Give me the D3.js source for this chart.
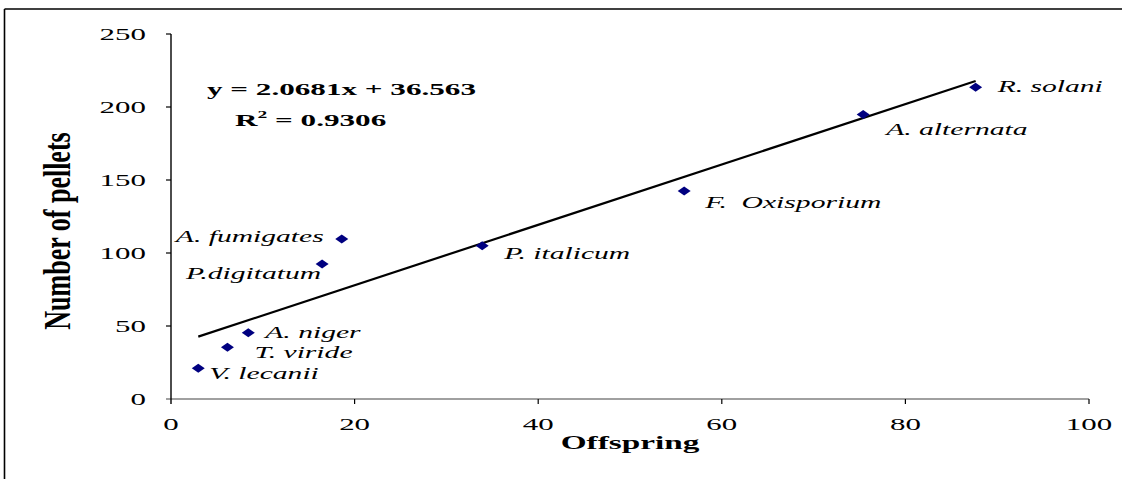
<!DOCTYPE html>
<html>
<head>
<meta charset="utf-8">
<script src="https://cdn.jsdelivr.net/npm/d3@7"></script>
<style>
  html, body { margin: 0; padding: 0; background: #fff; }
  svg { display: block; }
</style>
</head>
<body>
<svg id="chart" width="1122" height="479"></svg>
<script>
// ---- data ----
const species   = ["V. lecanii", "T. viride", "A. niger", "P.digitatum", "A. fumigates", "P. italicum", "F.  Oxisporium", "A. alternata", "R. solani"];
const offspring = [2.97, 6.15, 8.42, 16.46, 18.6, 33.9, 55.9, 75.4, 87.65];
const pellets   = [21.0, 35.4, 45.4, 92.5, 109.6, 104.9, 142.5, 194.9, 213.5];
const xTicks = [0, 20, 40, 60, 80, 100];
const yTicks = [0, 50, 100, 150, 200, 250];
const slope = 2.0681, intercept = 36.563, r2 = "0.9306";
const xTitle = "Offspring", yTitle = "Number of pellets";

// ---- layout (label placement relative to each point) ----
const labelLayout = [
  {dx: 11, dy: 11, anchor: "start"},
  {dx: 27, dy: 11, anchor: "start"},
  {dx: 17, dy: 5,  anchor: "start"},
  {dx: -1, dy: 15, anchor: "end"},
  {dx: -18, dy: 3, anchor: "end"},
  {dx: 22, dy: 13, anchor: "start"},
  {dx: 21, dy: 17, anchor: "start"},
  {dx: 23, dy: 21, anchor: "start"},
  {dx: 22, dy: 5,  anchor: "start"}
];

const SX = 1.82; // horizontal stretch of the original picture
const serif = "'Liberation Serif', 'Times New Roman', serif";

const svg = d3.select("#chart");
const x = d3.scaleLinear().domain([0, 100]).range([171, 1089]);
const y = d3.scaleLinear().domain([0, 250]).range([399, 34]);

// frame
svg.append("line").attr("x1", 4.5).attr("x2", 1122).attr("y1", 9).attr("y2", 9)
  .attr("stroke", "#000").attr("stroke-width", 1.6);
svg.append("line").attr("x1", 4.5).attr("x2", 4.5).attr("y1", 9).attr("y2", 479)
  .attr("stroke", "#000").attr("stroke-width", 1.6);

function stretchedText(g, px, py, txt, opts) {
  const t = g.append("text")
    .attr("transform", `translate(${px},${py}) scale(${opts.sx || SX},1)` + (opts.rotate ? ` rotate(${opts.rotate})` : ""))
    .attr("font-family", serif)
    .attr("font-size", opts.size)
    .attr("font-weight", opts.weight || "normal")
    .attr("font-style", opts.style || "normal")
    .attr("text-anchor", opts.anchor || "start")
    .attr("fill", "#000")
    .text(txt);
  return t;
}

// x axis (gray line) spanning into the y=0 tick
svg.append("line")
  .attr("x1", x(0) - 5).attr("x2", x(100))
  .attr("y1", y(0)).attr("y2", y(0))
  .attr("stroke", "#808080").attr("stroke-width", 1.6);

// y axis
svg.append("line")
  .attr("x1", x(0)).attr("x2", x(0))
  .attr("y1", y(250)).attr("y2", y(0) + 5)
  .attr("stroke", "#000").attr("stroke-width", 1.4);

// y ticks
const gy = svg.append("g");
yTicks.forEach(v => {
  if (v !== 0) {
    gy.append("line").attr("x1", x(0) - 5).attr("x2", x(0))
      .attr("y1", y(v)).attr("y2", y(v)).attr("stroke", "#000").attr("stroke-width", 1.2);
  }
  stretchedText(gy, x(0) - 25, y(v) + 6, String(v), {size: 17, anchor: "end"});
});

// x ticks
const gx = svg.append("g");
xTicks.forEach(v => {
  if (v !== 0) {
    gx.append("line").attr("x1", x(v)).attr("x2", x(v))
      .attr("y1", y(0)).attr("y2", y(0) + 5).attr("stroke", "#000").attr("stroke-width", 1.2);
  }
  stretchedText(gx, x(v), y(0) + 31, String(v), {size: 17, anchor: "middle"});
});

// axis titles
stretchedText(svg, (x(0) + x(100)) / 2, 449, xTitle, {size: 18, weight: "bold", anchor: "middle", sx: 1.85});
stretchedText(svg, 70, 231, yTitle, {size: 26, weight: "bold", anchor: "middle", rotate: -90, sx: 1.45});

// trend line
const xMin = d3.min(offspring), xMax = d3.max(offspring);
svg.append("line")
  .attr("x1", x(xMin)).attr("y1", y(slope * xMin + intercept))
  .attr("x2", x(xMax)).attr("y2", y(slope * xMax + intercept))
  .attr("stroke", "#000").attr("stroke-width", 2.2);

// points
const pts = offspring.map((v, i) => ({x: v, y: pellets[i], name: species[i], lay: labelLayout[i]}));
svg.append("g").selectAll("path").data(pts).join("path")
  .attr("d", d => {
    const cx = x(d.x), cy = y(d.y);
    return `M${cx - 6.5},${cy} L${cx},${cy - 4.5} L${cx + 6.5},${cy} L${cx},${cy + 4.5} Z`;
  })
  .attr("fill", "#000080");

// point labels
const gl = svg.append("g");
pts.forEach(d => {
  stretchedText(gl, x(d.x) + d.lay.dx, y(d.y) + d.lay.dy, d.name,
    {size: 16, style: "italic", anchor: d.lay.anchor, sx: 1.85}).style("white-space", "pre");
});

// equation
stretchedText(svg, 207, 95, `y = ${slope}x + ${intercept}`, {size: 17.5, weight: "bold", sx: 1.78});
const r2t = stretchedText(svg, 235, 126, "R", {size: 17.5, weight: "bold", sx: 1.78});
r2t.append("tspan").attr("font-size", 11).attr("dy", -8).text("2");
r2t.append("tspan").attr("dy", 8).text(` = ${r2}`);
</script>
</body>
</html>
